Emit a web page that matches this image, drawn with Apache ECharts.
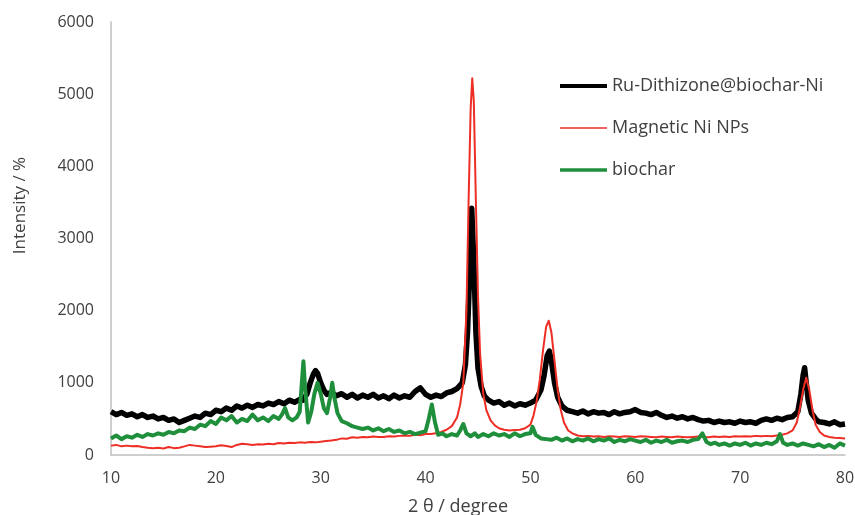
<!DOCTYPE html>
<html>
<head>
<meta charset="utf-8">
<script src="https://cdn.jsdelivr.net/npm/echarts@6/dist/echarts.min.js"></script>
<style>
html,body{margin:0;padding:0;background:#fff;}
#chart{width:855px;height:515px;}
</style>
</head>
<body>
<div id="chart"></div>
<script>
const seriesNames = ['Ru-Dithizone@biochar-Ni', 'Magnetic Ni NPs', 'biochar'];
const xTicks = [10, 20, 30, 40, 50, 60, 70, 80];
const yTicks = [0, 1000, 2000, 3000, 4000, 5000, 6000];

const ruData = [
[10,600],[10.5,560],[11,590],[11.5,550],[12,570],[12.5,530],[13,560],[13.5,520],[14,540],[14.5,500],
[15,520],[15.5,480],[16,500],[16.5,450],[17,480],[17.5,510],[18,540],[18.5,520],[19,580],[19.5,560],
[20,620],[20.5,600],[21,650],[21.5,620],[22,680],[22.5,650],[23,690],[23.5,660],[24,700],[24.5,680],
[25,720],[25.5,700],[26,740],[26.5,710],[27,760],[27.5,730],[28,770],[28.3,760],[28.7,850],[29,1000],
[29.3,1120],[29.5,1170],[29.7,1130],[30,1000],[30.3,900],[30.6,840],[31,870],[31.5,820],[32,850],[32.5,800],
[33,840],[33.5,790],[34,830],[34.5,800],[35,840],[35.5,790],[36,820],[36.5,780],[37,830],[37.5,790],
[38,820],[38.5,800],[39,880],[39.5,930],[40,840],[40.5,800],[41,830],[41.5,810],[42,860],[42.5,880],
[43,920],[43.5,1000],[43.8,1250],[44,1700],[44.2,2500],[44.4,3420],[44.6,2700],[44.8,1700],[45,1200],[45.3,950],
[45.6,820],[46,760],[46.5,720],[47,740],[47.5,690],[48,720],[48.5,680],[49,710],[49.5,690],[50,720],
[50.5,760],[51,900],[51.3,1100],[51.6,1380],[51.8,1440],[52,1300],[52.3,1000],[52.6,800],[53,680],[53.5,620],
[54,600],[54.5,580],[55,610],[55.5,570],[56,600],[56.5,580],[57,590],[57.5,560],[58,600],[58.5,570],
[59,590],[59.5,600],[60,630],[60.5,590],[61,580],[61.5,560],[62,590],[62.5,550],[63,520],[63.5,540],
[64,510],[64.5,530],[65,500],[65.5,520],[66,490],[66.5,470],[67,480],[67.5,450],[68,470],[68.5,450],
[69,460],[69.5,440],[70,470],[70.5,450],[71,460],[71.5,440],[72,480],[72.5,500],[73,480],[73.5,510],
[74,490],[74.5,520],[75,530],[75.5,600],[75.8,850],[76,1100],[76.15,1210],[76.3,1000],[76.5,750],[76.8,580],
[77.2,500],[77.5,460],[78,450],[78.5,430],[79,460],[79.5,420],[80,430]
];

const niData = [
[10,130],[10.5,140],[11,120],[11.5,130],[12,120],[12.5,125],[13,110],[13.5,100],[14,95],[14.5,100],
[15,90],[15.5,110],[16,95],[16.5,100],[17,120],[17.5,140],[18,130],[18.5,120],[19,110],[19.5,115],
[20,120],[20.5,135],[21,125],[21.5,110],[22,140],[22.5,155],[23,150],[23.5,140],[24,150],[24.5,145],
[25,155],[25.5,150],[26,165],[26.5,160],[27,170],[27.5,165],[28,175],[28.5,170],[29,180],[29.5,175],
[30,185],[30.5,195],[31,200],[31.5,210],[32,230],[32.5,225],[33,245],[33.5,240],[34,250],[34.5,245],
[35,255],[35.5,250],[36,250],[36.5,260],[37,255],[37.5,265],[38,270],[38.5,265],[39,280],[39.5,275],
[40,290],[40.5,290],[41,300],[41.5,320],[42,350],[42.5,400],[43,520],[43.3,700],[43.6,1000],[43.9,2000],
[44.1,3500],[44.3,4800],[44.45,5220],[44.6,4900],[44.8,3500],[45,2200],[45.2,1400],[45.5,850],[45.8,620],[46.2,480],
[46.6,410],[47,370],[47.5,350],[48,340],[48.5,345],[49,350],[49.5,370],[50,420],[50.3,550],[50.6,750],
[50.9,1050],[51.2,1450],[51.5,1780],[51.75,1860],[52,1700],[52.3,1300],[52.6,900],[52.9,620],[53.2,450],[53.6,340],
[54,300],[54.5,270],[55,260],[55.5,265],[56,255],[56.5,260],[57,250],[57.5,260],[58,255],[58.5,250],
[59,260],[59.5,255],[60,250],[60.5,260],[61,255],[61.5,250],[62,245],[62.5,255],[63,250],[63.5,245],
[64,255],[64.5,250],[65,245],[65.5,250],[66,255],[66.5,250],[67,245],[67.5,255],[68,250],[68.5,255],
[69,250],[69.5,260],[70,255],[70.5,260],[71,255],[71.5,265],[72,260],[72.5,265],[73,260],[73.5,270],
[74,280],[74.5,300],[75,340],[75.4,450],[75.7,650],[76,900],[76.3,1070],[76.6,900],[76.9,620],[77.2,420],
[77.6,320],[78,270],[78.5,250],[79,240],[79.5,235],[80,230]
];

const biocharData = [
[10,230],[10.5,270],[11,220],[11.5,260],[12,240],[12.5,280],[13,250],[13.5,290],[14,270],[14.5,300],
[15,280],[15.5,320],[16,300],[16.5,340],[17,330],[17.5,380],[18,360],[18.5,420],[19,400],[19.5,470],
[20,430],[20.5,520],[21,480],[21.5,540],[22,450],[22.5,500],[23,470],[23.5,560],[24,480],[24.5,520],
[25,470],[25.5,540],[26,500],[26.3,560],[26.6,650],[26.9,520],[27.3,480],[27.7,520],[28,600],[28.2,1000],
[28.35,1300],[28.5,950],[28.8,450],[29.1,600],[29.4,850],[29.7,1000],[30,850],[30.3,650],[30.6,580],[30.9,800],
[31.1,1000],[31.3,800],[31.6,580],[32,470],[32.5,440],[33,400],[33.5,380],[34,360],[34.5,380],[35,340],
[35.5,370],[36,330],[36.5,360],[37,320],[37.5,340],[38,300],[38.5,320],[39,290],[39.5,310],[40,330],
[40.3,500],[40.6,700],[40.9,450],[41.2,280],[41.6,300],[42,260],[42.5,290],[43,270],[43.3,340],[43.6,430],
[43.9,300],[44.3,260],[44.7,300],[45,250],[45.5,290],[46,260],[46.5,300],[47,270],[47.5,290],[48,250],
[48.5,300],[49,260],[49.5,290],[50,300],[50.2,390],[50.5,280],[51,230],[51.5,220],[52,210],[52.5,240],
[53,200],[53.5,230],[54,190],[54.5,220],[55,200],[55.5,230],[56,190],[56.5,220],[57,200],[57.5,230],
[58,180],[58.5,210],[59,190],[59.5,220],[60,200],[60.5,180],[61,210],[61.5,170],[62,200],[62.5,180],
[63,210],[63.5,170],[64,190],[64.5,200],[65,180],[65.5,210],[66,220],[66.4,300],[66.8,180],[67.2,150],
[67.6,170],[68,140],[68.5,160],[69,130],[69.5,160],[70,140],[70.5,170],[71,130],[71.5,160],[72,140],
[72.5,170],[73,150],[73.5,190],[73.8,290],[74.1,170],[74.5,140],[75,160],[75.5,130],[76,160],[76.5,140],
[77,120],[77.5,150],[78,110],[78.5,140],[79,100],[79.5,160],[80,130]
];

const colors = ['#000000', '#ee2e24', '#1f8f3c'];
const widths = [5.5, 2, 4];
const legendWidths = [4, 1.5, 3.5];
const dataSets = [ruData, niData, biocharData];
const FONT = 'Open Sans';
const TXT = '#404040';

const chart = echarts.init(document.getElementById('chart'));
chart.setOption({
  animation: false,
  backgroundColor: '#ffffff',
  textStyle: { fontFamily: FONT },
  grid: { left: 111, right: 10, top: 22, bottom: 60, containLabel: false, outerBoundsMode: 'none' },
  legend: {
    orient: 'vertical',
    left: 558,
    top: 77,
    padding: 0,
    itemWidth: 47,
    itemHeight: 18,
    itemGap: 24,
    textStyle: { fontFamily: FONT, fontSize: 18, color: TXT },
    data: seriesNames.map((n, i) => ({
      name: n,
      lineStyle: { width: legendWidths[i] },
      itemStyle: { opacity: 0 }
    }))
  },
  xAxis: {
    type: 'value',
    min: 10, max: 80, interval: 10,
    name: '2 θ / degree',
    nameLocation: 'middle',
    nameGap: 43,
    nameTextStyle: { fontFamily: FONT, fontSize: 18, color: TXT, padding: [0, 40, 0, 0] },
    axisLine: { show: true, lineStyle: { color: '#bfbfbf', width: 1.5 } },
    axisTick: { show: false },
    splitLine: { show: false },
    axisLabel: { fontFamily: FONT, fontSize: 16, color: TXT, margin: 15,
      formatter: v => xTicks.includes(v) ? String(v) : '' }
  },
  yAxis: {
    type: 'value',
    min: 0, max: 6000, interval: 1000,
    name: 'Intensity / %',
    nameLocation: 'middle',
    nameGap: 82,
    nameTextStyle: { fontFamily: FONT, fontSize: 17, color: TXT, padding: [0, 0, 0, 66] },
    axisLine: { show: true, lineStyle: { color: '#bfbfbf', width: 1.5 } },
    axisTick: { show: false },
    splitLine: { show: false },
    axisLabel: { fontFamily: FONT, fontSize: 16, color: TXT, margin: 17,
      formatter: v => yTicks.includes(v) ? String(v) : '' }
  },
  series: seriesNames.map((n, i) => ({
    name: n,
    type: 'line',
    data: dataSets[i],
    symbol: 'none',
    showSymbol: false,
    color: colors[i],
    lineStyle: { color: colors[i], width: widths[i], join: 'round' },
    z: 2 + i
  }))
});
</script>
</body>
</html>
